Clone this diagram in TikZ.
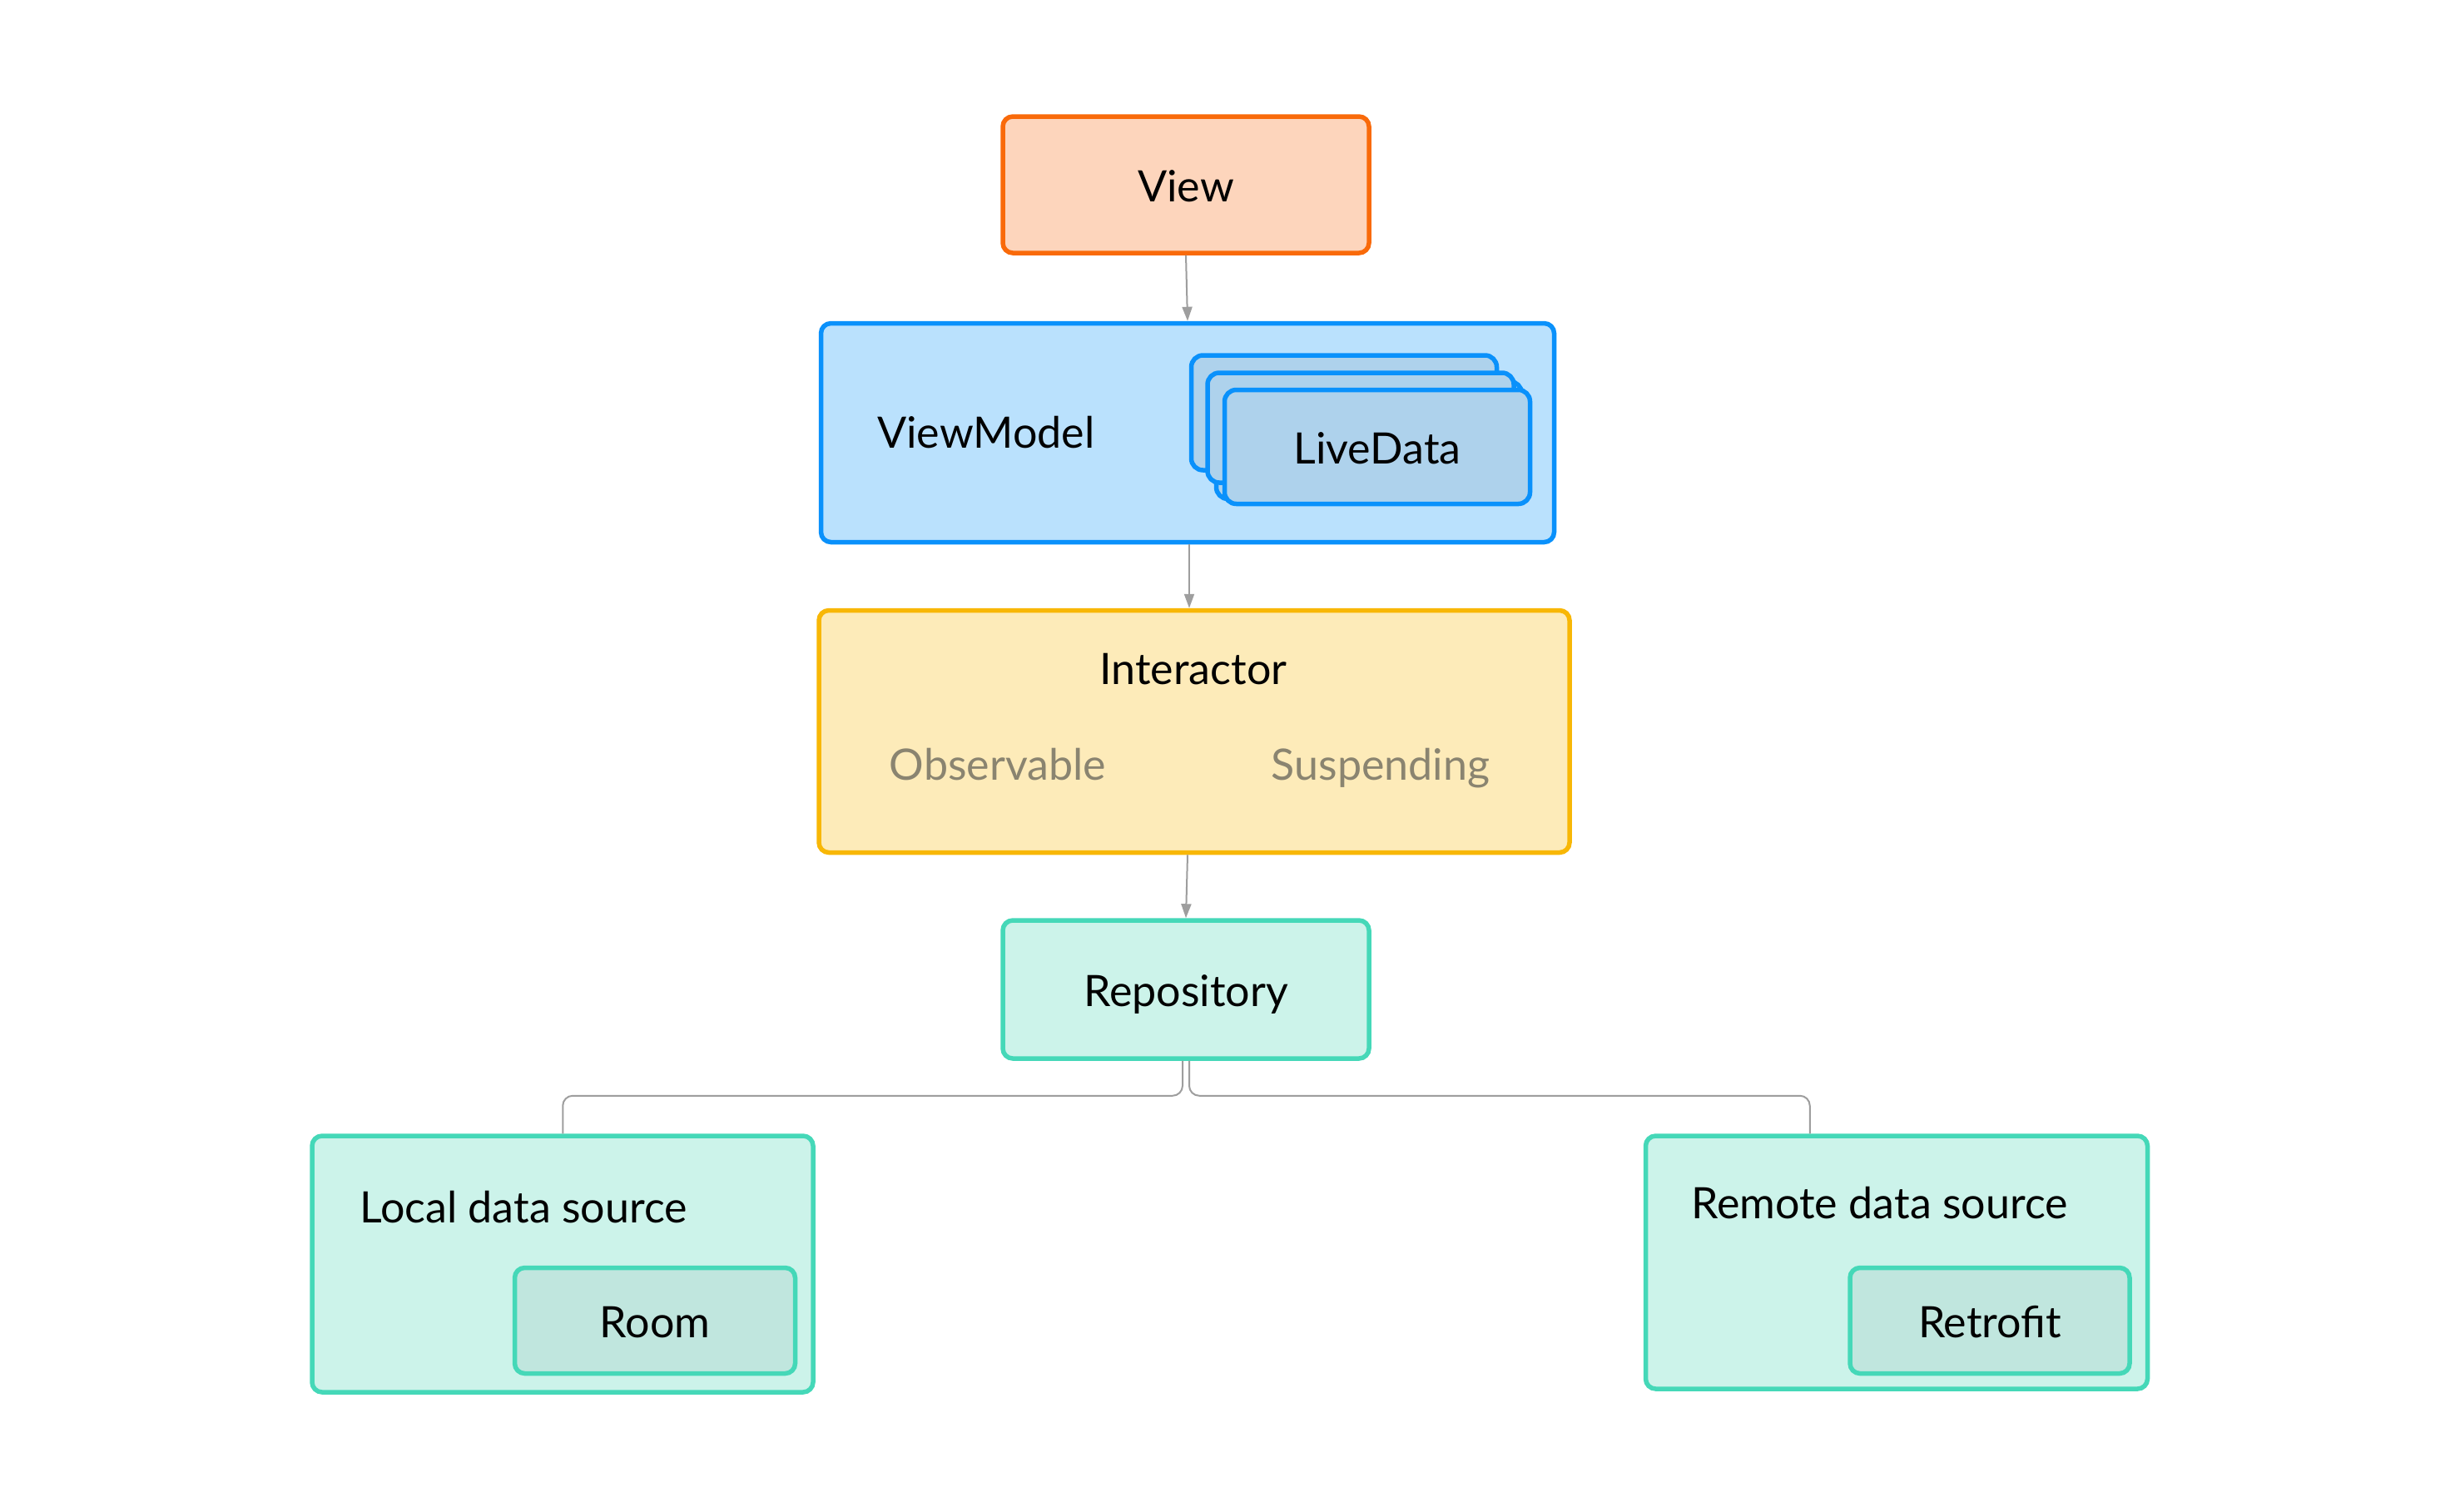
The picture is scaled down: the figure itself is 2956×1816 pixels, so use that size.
\documentclass[tikz,border=0pt]{standalone}
\usepackage{fontspec}
\setmainfont{Lato}
\usetikzlibrary{arrows.meta,calc}
\definecolor{viewfill}{HTML}{FDD5BC}
\definecolor{viewline}{HTML}{F96A0A}
\definecolor{vmfill}{HTML}{BAE1FD}
\definecolor{vmline}{HTML}{0A91FB}
\definecolor{ldfill}{HTML}{AED2EC}
\definecolor{intfill}{HTML}{FDEBB9}
\definecolor{intline}{HTML}{F8B706}
\definecolor{repofill}{HTML}{CCF3EA}
\definecolor{repoline}{HTML}{45D8B8}
\definecolor{innerfill}{HTML}{C0E6DE}
\definecolor{subtext}{HTML}{8A8470}
\definecolor{conncol}{HTML}{9E9E9E}
\tikzset{
  x=1pt,y=-1pt,
  txt/.style={font=\fontsize{52}{60}\selectfont},
  box/.style={draw,line width=5.5pt,rounded corners=12pt,inner sep=0pt,txt,text height=44pt,text depth=3pt},
  viewbox/.style={box,fill=viewfill,draw=viewline},
  vmbox/.style={box,fill=vmfill,draw=vmline},
  ldbox/.style={box,fill=ldfill,draw=vmline,rounded corners=14pt},
  intbox/.style={box,fill=intfill,draw=intline},
  repobox/.style={box,fill=repofill,draw=repoline},
  innerbox/.style={box,fill=innerfill,draw=repoline},
  lbl/.style={txt,inner sep=0pt},
  sublbl/.style={lbl,text=subtext},
  conn/.style={draw=conncol,line width=2pt},
  arr/.style={conn,-{Triangle[length=17pt,width=12pt]}},
}
\begin{document}
\begin{tikzpicture}
\useasboundingbox[fill=white] (0,0) rectangle (2956,1816);
% View
\node[viewbox,minimum width=440pt,minimum height=164pt] (view) at (1425,222) {View};
% ViewModel
\node[vmbox,minimum width=881pt,minimum height=263pt] (vm) at (1427,520) {};
\node[lbl,anchor=base west] (vmlabel) at (1054,538) {ViewModel};
\node[ldbox,minimum width=367pt,minimum height=138pt] (ld1) at (1615,496) {};
\node[ldbox,minimum width=367pt,minimum height=141pt] (ld3) at (1645,529) {};
\node[ldbox,minimum width=368pt,minimum height=132pt] (ld2) at (1635,514) {};
\node[ldbox,minimum width=367pt,minimum height=137pt] (ld4) at (1655,537) {LiveData};
% Interactor
\node[intbox,minimum width=902pt,minimum height=291pt] (int) at (1435,879) {};
\node[lbl,anchor=base] (intlabel) at (1434,822) {Interactor};
\node[sublbl,anchor=base] (obs) at (1199,937) {Observable};
\node[sublbl,anchor=base] (susp) at (1659,937) {Suspending};
% Repository
\node[repobox,minimum width=440pt,minimum height=166pt] (repo) at (1425,1189) {Repository};
% Local data source
\node[repobox,minimum width=602pt,minimum height=308pt] (local) at (676,1519) {};
\node[lbl,anchor=base west] (locallabel) at (432,1469) {Local data source};
\node[innerbox,minimum width=337pt,minimum height=127pt] (room) at (787,1587) {Room};
% Remote data source
\node[repobox,minimum width=603pt,minimum height=304pt] (remote) at (2279,1517) {};
\node[lbl,anchor=base west] (remotelabel) at (2032,1464) {Remote data source};
\node[innerbox,minimum width=336pt,minimum height=127pt] (retro) at (2391,1587) {Retrofit};
% connectors
\draw[arr] (view.south) -- (vm.north);
\draw[arr] ([xshift=2pt]vm.south) -- ([xshift=2pt]vm.south |- int.north);
\draw[arr] ([xshift=-8pt]int.south) -- (repo.north);
\coordinate (lefttop) at ($(local.north west)+(304,0)$);
\coordinate (righttop) at ($(remote.north west)+(200,0)$);
\draw[conn,rounded corners=12pt] ([xshift=-4pt]repo.south) -- ++(0,42) -| (lefttop);
\draw[conn,rounded corners=12pt] ([xshift=4pt]repo.south) -- ++(0,42) -| (righttop);
\end{tikzpicture}
\end{document}
